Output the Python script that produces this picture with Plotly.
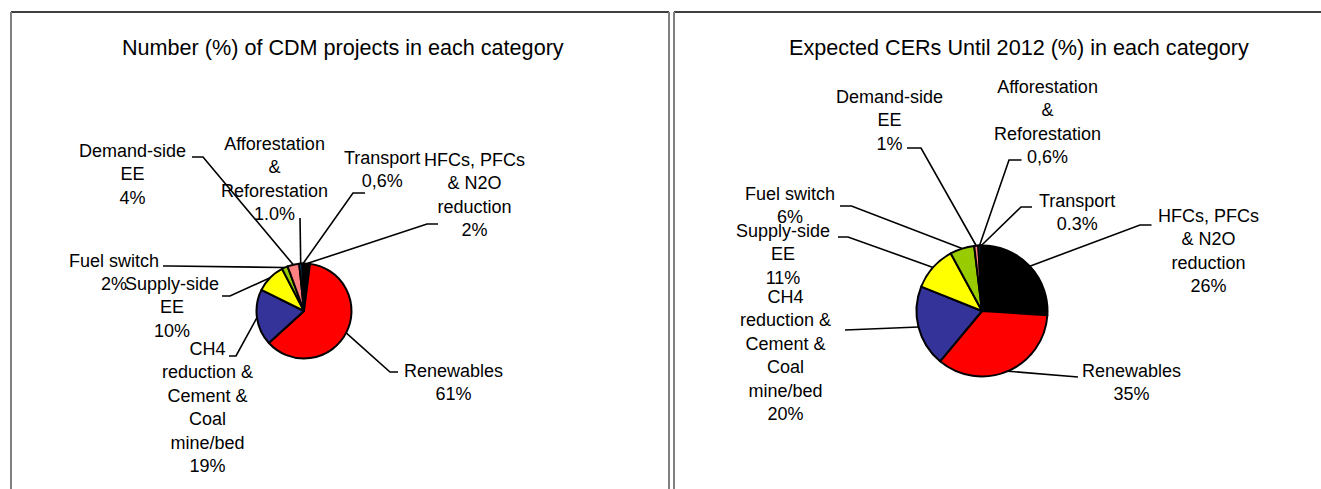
import math
import plotly.graph_objects as go

W, H = 1321, 489

# ---------------- data ----------------
categories = [
    "HFCs, PFCs & N2O reduction",
    "Renewables",
    "CH4 reduction & Cement & Coal mine/bed",
    "Supply-side EE",
    "Fuel switch",
    "Demand-side EE",
    "Afforestation & Reforestation",
    "Transport",
]
category_lines = [
    "HFCs, PFCs<br>& N2O<br>reduction",
    "Renewables",
    "CH4<br>reduction &<br>Cement &<br>Coal<br>mine/bed",
    "Supply-side<br>EE",
    "Fuel switch",
    "Demand-side<br>EE",
    "Afforestation<br>&<br>Reforestation",
    "Transport",
]
projects_pct = [2, 61, 19, 10, 2, 4, 1.0, 0.6]
projects_lbl = ["2%", "61%", "19%", "10%", "2%", "4%", "1.0%", "0,6%"]
cers_pct = [26, 35, 20, 11, 6, 1, 0.6, 0.3]
cers_lbl = ["26%", "35%", "20%", "11%", "6%", "1%", "0,6%", "0.3%"]
title_left = "Number (%) of CDM projects in each category"
title_right = "Expected CERs Until 2012 (%) in each category"

# ---------------- styles / layout positions (pixels) ----------------
colors = ["#000000", "#FF0000", "#333399", "#FFFF00", "#99CC00", "#FF8080", "#0066CC", "#CCCCFF"]
FONT = "Liberation Sans, Arial, sans-serif"
LABEL_SIZE = 18
TITLE_SIZE = 21.6

left_geo = dict(cx=304, cy=311, r=47.5)
right_geo = dict(cx=982, cy=311, r=65.5)

left_label_pos = [(475, 195), (453, 382), (207, 407.5), (172, 307), (114, 272.5),
                  (132, 174.5), (274, 179), (382, 170)]
left_leader = [[(438, 224), (427, 224)], [(398, 372), (390, 372)], [(229, 356), (236, 356)],
               [(222, 296), (230, 296)], [(163, 266), (170, 266)], [(192, 157), (203, 157)],
               [(300, 218)], [(365, 193), (353, 193)]]

right_label_pos = [(1208, 251), (1131, 382), (785, 355), (783, 254), (790, 206),
                   (889, 121), (1047, 122.5), (1077, 212)]
right_leader = [[(1151.5, 225), (1140, 225)], [(1078, 377)], [(845, 330)],
                [(838, 237), (848, 237)], [(840, 206), (851.5, 206)], [(907, 148), (921, 148)],
                [(1021.5, 160), (1009, 160)], [(1032, 207), (1021, 207)]]


def px(x):
    return x / W


def py(y):
    return 1 - y / H


def edge_points(values, geo):
    total = sum(values)
    cum = 0.0
    pts = []
    for v in values:
        a = 2 * math.pi * (cum + v / 2) / total
        pts.append((geo["cx"] + geo["r"] * math.sin(a), geo["cy"] - geo["r"] * math.cos(a)))
        cum += v
    return pts


fig = go.Figure()
shapes = []
annotations = []


def add_chart(values, pct_lbls, geo, label_pos, leaders, title, title_x):
    cx, cy, r = geo["cx"], geo["cy"], geo["r"]
    fig.add_trace(go.Pie(
        values=values, labels=categories, sort=False, direction="clockwise", rotation=0,
        marker=dict(colors=colors, line=dict(color="black", width=2)),
        textinfo="none", hoverinfo="skip", showlegend=False,
        domain=dict(x=[px(cx - r), px(cx + r)], y=[py(cy + r), py(cy - r)]),
    ))
    edges = edge_points(values, geo)
    for i, (name, pl) in enumerate(zip(category_lines, pct_lbls)):
        lx, ly = label_pos[i]
        annotations.append(dict(
            x=px(lx), y=py(ly), xref="paper", yref="paper", xanchor="center", yanchor="middle",
            text=name + "<br>" + pl, showarrow=False, align="center",
            font=dict(family=FONT, size=LABEL_SIZE, color="black"),
        ))
        pts = leaders[i] + [edges[i]]
        path = "M " + " L ".join(f"{px(x):.5f},{py(y):.5f}" for x, y in pts)
        shapes.append(dict(type="path", xref="paper", yref="paper", path=path,
                           line=dict(color="black", width=1.6)))
    annotations.append(dict(
        x=px(title_x), y=py(47), xref="paper", yref="paper", xanchor="center", yanchor="middle",
        text=title, showarrow=False, font=dict(family=FONT, size=TITLE_SIZE, color="black"),
    ))


add_chart(projects_pct, projects_lbl, left_geo, left_label_pos, left_leader, title_left, 343)
add_chart(cers_pct, cers_lbl, right_geo, right_label_pos, right_leader, title_right, 1019)

# chart-area borders
for x0, x1 in [(11, 669), (674, W)]:
    shapes.append(dict(type="line", xref="paper", yref="paper", x0=px(x0), x1=px(x1),
                       y0=py(12), y1=py(12), line=dict(color="black", width=1.5)))
for x in [11, 669, 674]:
    shapes.append(dict(type="line", xref="paper", yref="paper", x0=px(x), x1=px(x),
                       y0=py(12), y1=py(H + 5), line=dict(color="#7f7f7f", width=2)))

fig.update_layout(
    width=W, height=H, margin=dict(l=0, r=0, t=0, b=0),
    paper_bgcolor="white", plot_bgcolor="white",
    shapes=shapes, annotations=annotations,
)

fig.write_html(
    "out.html",
    config={"displayModeBar": False},
    post_script="document.body.style.margin='0';document.body.style.overflow='hidden';",
)
